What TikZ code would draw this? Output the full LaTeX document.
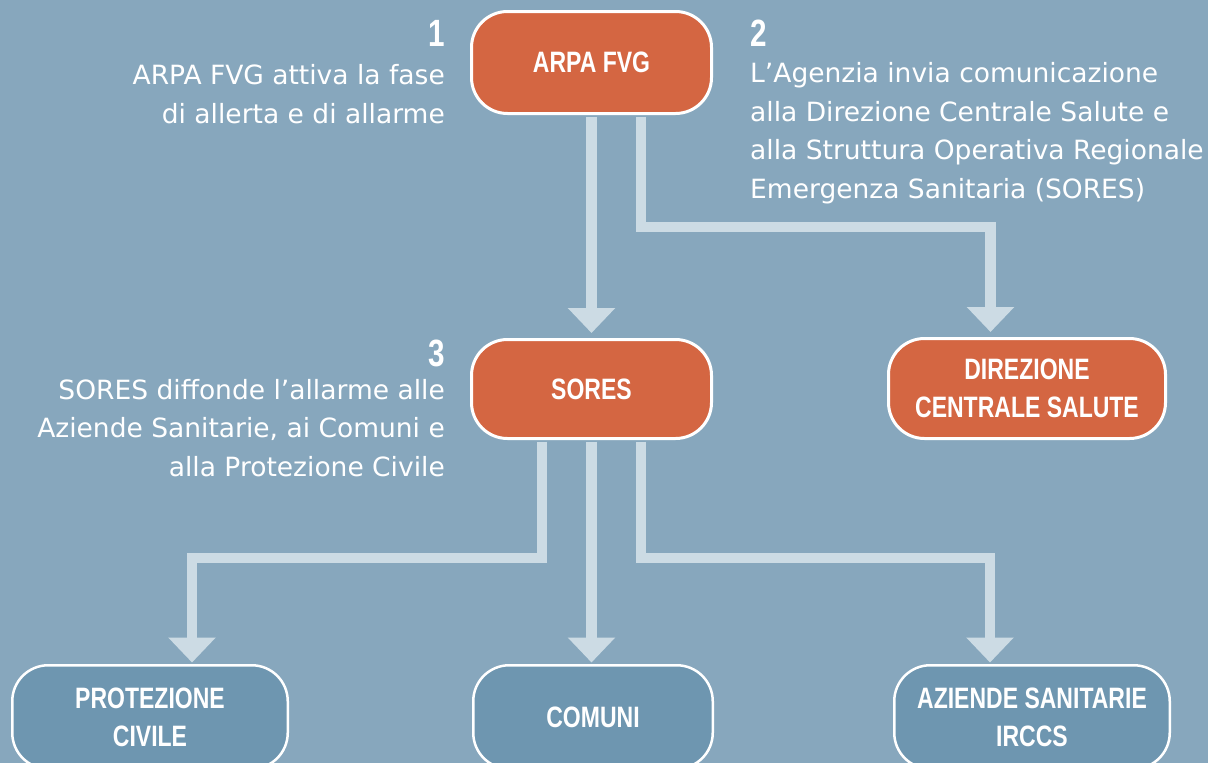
\documentclass[tikz,border=0pt]{standalone}
\usepackage{fontspec}
\setmainfont{DejaVu Sans}
\newfontfamily\lblfont{Liberation Sans}[FakeStretch=0.78]
\usetikzlibrary{arrows.meta}
\definecolor{bgc}{RGB}{135,167,189}
\definecolor{orng}{RGB}{212,102,66}
\definecolor{bluebox}{RGB}{110,150,176}
\definecolor{arrowc}{RGB}{204,219,228}
\tikzset{
  boxbase/.style={draw=white, rounded corners=36pt, text=white, align=center, inner sep=0pt,
    font=\lblfont\bfseries\fontsize{29.5}{38}\selectfont},
  obox/.style={boxbase, fill=orng, line width=3pt},
  bbox/.style={boxbase, fill=bluebox, line width=2.5pt},
  conn/.style={draw=arrowc, line width=10.5pt, line join=miter,
    -{Triangle[width=46pt,length=25pt]}, shorten <=1.5pt},
  txt/.style={text=white, inner sep=0pt, font=\fontsize{26.5}{38.5}\selectfont},
  num/.style={text=white, inner sep=0pt, font=\lblfont\bfseries\fontsize{38}{40}\selectfont}
}
\begin{document}
\begin{tikzpicture}[x=1pt,y=-1pt]
\useasboundingbox (0,0) rectangle (1208,763);
\fill[bgc] (0,0) rectangle (1208,763);
% boxes
\node[obox, minimum width=240pt, minimum height=102pt] (arpa) at (591.5,62.5) {ARPA FVG};
\node[obox, minimum width=240pt, minimum height=99pt] (sores) at (591.5,389) {SORES};
\node[obox, minimum width=277pt, minimum height=100pt] (dcs) at (1027,388.5) {DIREZIONE\\CENTRALE SALUTE};
\node[bbox, minimum width=275.5pt, minimum height=103.5pt] (prot) at (150,717) {PROTEZIONE\\CIVILE};
\node[bbox, minimum width=239.5pt, minimum height=103.5pt] (comuni) at (593,717) {COMUNI};
\node[bbox, minimum width=275.5pt, minimum height=103.5pt] (aziende) at (1032,717) {AZIENDE SANITARIE\\IRCCS};
% connectors
\coordinate (k1) at (990.5,227);
\coordinate (k2) at (192,558);
\coordinate (k3) at (990,558);
\draw[conn, shorten >=5pt] (arpa.south) -- (sores.north);
\draw[conn, shorten >=5pt] ([xshift=49.5pt]arpa.south) |- (k1) -- (k1 |- dcs.north);
\draw[conn, shorten >=1.5pt] ([xshift=-49.5pt]sores.south) |- (k2) -- (k2 |- prot.north);
\draw[conn, shorten >=1.5pt] (sores.south) -- (sores.south |- comuni.north);
\draw[conn, shorten >=1.5pt] ([xshift=49.5pt]sores.south) |- (k3) -- (k3 |- aziende.north);
% texts
\node[num, anchor=base east] (n1) at (445,46) {1};
\node[txt, anchor=base east, align=right] (t1) at (445,123) {ARPA FVG attiva la fase\\di allerta e di allarme};
\node[num, anchor=base west] (n2) at (750,46) {2};
\node[txt, anchor=base west, align=left] (t2) at (750,198) {L’Agenzia invia comunicazione\\alla Direzione Centrale Salute e\\alla Struttura Operativa Regionale\\Emergenza Sanitaria (SORES)};
\node[num, anchor=base east] (n3) at (445,366) {3};
\node[txt, anchor=base east, align=right] (t3) at (445,476) {SORES diffonde l’allarme alle\\Aziende Sanitarie, ai Comuni e\\alla Protezione Civile};
\end{tikzpicture}
\end{document}
